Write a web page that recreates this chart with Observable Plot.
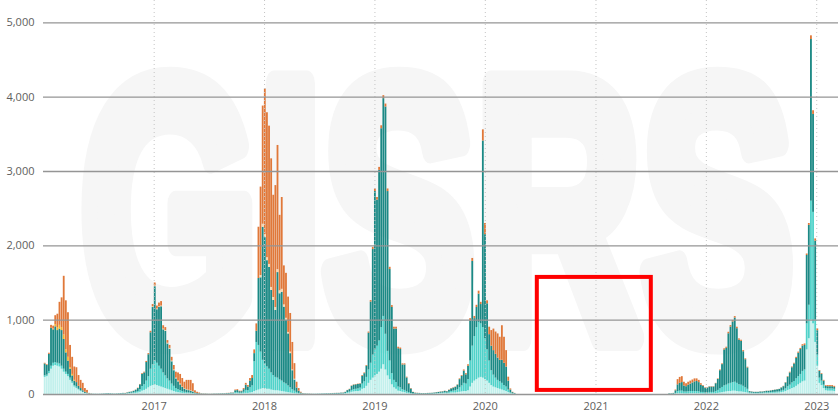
<!DOCTYPE html>
<html><head><meta charset="utf-8">
<script src="https://cdn.jsdelivr.net/npm/d3@7"></script>
<script src="https://cdn.jsdelivr.net/npm/@observablehq/plot@0.6"></script>
<style>
html,body{margin:0;padding:0;background:#fff;}
#chart{width:838px;height:419px;overflow:hidden;}
</style></head><body><div id="chart"></div>
<script>
// ---- data (weekly, first week starting Sunday 2016-01-03) ----
const firstWeek = "2016-01-03";
const seriesNames = ["A not subtyped", "A(H1N1)pdm09", "A(H3)", "B (Victoria)", "B lineage not determined", "B (Yamagata)"];
const seriesColors = ["#c2f0ec", "#4fd2c9", "#1b8985", "#f3b431", "#f6d6ac", "#e07839"];
const yearTicks = [2017, 2018, 2019, 2020, 2021, 2022, 2023];
const yTicks = [0, 1000, 2000, 3000, 4000, 5000];
const highlightStart = ["2020-06-21"];
const highlightEnd = ["2021-07-03"];
const highlightLow = [55];
const highlightHigh = [1575];
const watermark = ["GISRS"];

const pale = [
 230,240,280,340,380,390,380,370,340,300,270,240,190,150,100,80,60,40,30,15,10,5,
 2,2,1,1,2,2,3,3,4,3,3,2,3,3,4,5,
 5,7,10,10,12,15,20,30,45,55,70,90,110,120,130,120,110,100,90,80,70,60,50,40,30,25,20,15,12,10,10,8,6,5,3,2,
 2,2,1,1,1,1,2,2,2,3,3,3,4,4,5,
 5,10,10,8,8,10,15,15,20,25,40,50,60,70,80,80,70,70,60,55,50,50,45,40,35,30,25,20,15,10,8,5,3,
 2,2,2,1,1,1,1,1,2,2,2,3,3,3,4,4,4,4,5,
 5,8,15,18,30,35,40,40,45,70,80,110,150,190,220,250,270,300,340,400,330,250,200,130,90,70,45,40,30,25,15,10,6,3,
 4,4,3,3,3,3,3,4,4,5,6,8,10,10,12,
 10,15,20,20,20,25,30,35,40,40,50,100,150,180,200,220,230,220,200,180,150,120,100,90,80,70,60,50,40,25,10,5,3,
 0,0,0,0,0,0,0,0,0,0, 0,0,0,0,0,0,0,0,0,0, 0,0,0,0,0,0,0,0,0,0, 0,0,0,0,0,0,0,0,0,0,
 0,0,0,0,0,0,0,0,0,0, 0,0,0,0,0,0,0,0,0,0, 0,0,0,0,0,0,0,0,0,0, 0,0,
 2,2,3,5,10,10,10,8,8,8,10,10,10,10,10,8,8,6,6,8,8,8,10,15,20,25,30,35,40,40,45,45,40,35,35,30,25,20,10,
 10,9,9,9,10,10,12,13,13,15,16,17,19,
 20,25,30,40,55,65,80,90,110,130,150,170,180,600,750,1000,950,700,380,150,120,80,50,45,45,45,40
];
const turq = [
 20,20,30,40,40,40,40,40,40,40,30,30,30,20,20,20,10,10,0,0,0,0,
 1,1,1,0,1,1,1,2,2,2,1,1,1,2,2,3,
 3,5,6,8,10,15,20,35,60,75,110,150,230,280,320,300,270,240,200,170,140,120,90,70,50,40,30,25,18,15,12,10,8,5,3,2,
 1,1,1,1,0,1,1,1,1,2,2,2,3,3,5,
 5,15,15,10,10,20,40,35,70,90,400,650,600,500,380,330,300,270,230,200,180,170,150,140,120,110,90,70,50,35,20,10,5,
 2,1,1,1,1,1,1,1,1,1,2,2,2,2,3,3,3,3,4,
 5,7,12,15,25,30,30,35,40,70,90,120,180,230,310,350,380,420,560,650,480,330,250,150,100,90,55,50,35,30,20,15,8,4,
 3,3,3,2,2,2,3,3,3,4,5,5,7,8,10,
 10,15,20,25,30,40,60,80,110,100,150,350,500,600,700,750,720,680,550,420,300,200,160,130,110,100,90,70,60,35,15,5,3,
 0,0,0,0,0,0,0,0,0,0, 0,0,0,0,0,0,0,0,0,0, 0,0,0,0,0,0,0,0,0,0, 0,0,0,0,0,0,0,0,0,0,
 0,0,0,0,0,0,0,0,0,0, 0,0,0,0,0,0,0,0,0,0, 0,0,0,0,0,0,0,0,0,0, 0,0,
 2,2,3,10,30,35,35,25,25,28,30,30,30,30,25,20,20,15,15,20,20,20,30,40,55,70,85,90,100,110,115,120,110,95,90,80,65,50,12,
 8,7,7,7,8,8,9,10,10,11,12,13,14,
 15,20,25,35,50,60,75,85,100,110,120,140,150,350,450,1600,1500,300,150,70,60,45,30,30,30,30,30
];
const teal = [
 160,130,230,510,450,480,440,470,480,400,260,180,120,80,60,60,40,30,20,15,10,5,
 3,2,2,2,2,3,4,5,6,5,4,3,4,5,6,7,
 5,8,12,15,20,27,40,65,165,160,250,295,490,770,1000,720,790,840,580,600,470,430,300,210,130,105,80,55,40,35,30,25,20,10,8,6,
 4,3,3,2,2,2,3,3,4,4,5,5,6,7,8,
 8,25,28,20,20,35,70,50,90,100,110,150,900,1000,1790,1700,1430,1370,1110,1010,900,1420,1160,1195,1020,855,700,460,255,150,60,30,12,
 5,4,3,3,2,2,2,3,3,4,4,5,5,6,6,7,8,8,9,
 8,13,25,33,55,60,60,60,55,105,110,150,495,823,1420,2130,1965,2295,2675,2930,3057,2150,1231,891,690,720,516,515,332,342,188,115,60,20,
 10,8,8,7,7,7,8,8,9,10,12,14,15,17,20,
 17,26,35,40,45,60,110,130,165,125,180,540,1140,240,270,380,260,2510,1400,620,355,330,330,320,300,290,310,300,270,120,35,15,7,
 0,0,0,0,0,0,0,0,0,0, 0,0,0,0,0,0,0,0,0,0, 0,0,0,0,0,0,0,0,0,0, 0,0,0,0,0,0,0,0,0,0,
 0,0,0,0,0,0,0,0,0,0, 0,0,0,0,0,0,0,0,0,0, 0,0,0,0,0,0,0,0,0,0, 0,0,
 5,5,8,35,90,105,115,82,72,89,100,115,130,135,125,97,82,64,64,72,72,72,105,148,245,307,484,496,677,757,815,863,735,600,590,465,378,287,16,
 15,13,13,13,15,15,17,20,20,22,25,28,30,
 33,42,50,80,128,165,205,235,275,315,335,340,330,920,1075,2175,1317,1063,328,93,90,55,30,30,30,30,25
];
const yellow = [
 0,0,0,0,10,30,40,50,40,60,40,50,20,20,10,0,0,0,0,0,0,0,
 0,0,0,0,0,0,0,0,0,0, 0,0,0,0,0,0,0,0,0,0, 0,0,0,0,0,0,0,0,0,0, 0,0,0,0,0,0,0,0,0,0, 0,0,0,0,0,0,0,0,0,0,
 0,0,0,0,0,0,0,0,0,0, 0,0,0,0,0,0,0,0,0,0, 0,0,0,0,0,0,0,0,0,0, 0,0,0,0,0,0,0,0,0,0, 0,0,0,0,0,0,0,0,0,0,
 0,0,0,0,0,0,0,0,0,0, 0,0,0,0,0,0,0,0,0,0, 0,0,0,0,0,0,0,0,0,0, 0,0,0,0,0,0,0,0,0,0, 0,0,0,0,0,0,0,0,0,0,
 0,0,0,0,0,0,0,0,0,0, 0,0,0,0,0,0,0,0,0,0, 0,0,0,0,0,0,0,0,0,0, 0,0,0,0,0,0,0,0,0,0, 0,0,0,0,0,0,0,0,0,0,
 0,0,0,0,0,0,0,0,0,0, 0,0,0,0,0,0,0,0,0,0, 0,0,0,0,0,0,0,0,0,0, 0,0,0,0,0,0,0,0,0,0, 0,0,0,0,0,0,0,0,0,0,
 0,0,0,0,0,0,0,0,0,0, 0,0,0,0,0,0,0,0,0,0, 0,0,0,0,0,0,0,0,0,0, 0,0,0,0,0,0,0,0,0,0, 0,0,0,0,0,0,0,0,0,0,
 0,0,0,0,0,0,0,0,0,0, 0,0,0,0,0,0,0,0,0,0, 0,0,0,0,0,0,0,0,0,0, 0,0,0,0,0,0,0,0,0,0, 0,0,0,0,0,0,0,0,0,0,
 0,0
];
const cream = [
 0,0,0,0,0,0,0,0,0,0, 0,0,0,0,0,0,0,0,0,0, 0,0,0,0,0,0,0,0,0,0, 0,0,0,0,0,0,0,0,
 0,0,0,0,0,0,0,0,0,0,0,0,0, 10,10,10,10,10,10,10,10,10,10,10,10,10,10, 5,5,5,5,5,5, 0,0,0,
 0,0,0,0,0,0,0,0,0,0,0,0,0,0,0,
 0,0,0,0,0,0,0,0,0,0,0,0,0, 30, 40,40,40,40,40,40,40,40,40,40, 30,30,20,20,10,10, 0,0,0,
 0,0,0,0,0,0,0,0,0,0, 0,0,0,0,0,0,0,0,0,0, 0,0,0,0,0,0,0,0,0,0, 0,0,0,0,0,0,0,0,0,0, 0,0,0,0,0,0,0,0,0,0,
 0,0,0,0,0,0,0,0,0,0, 0,0,0,0,0,0,0,0,0,0, 0,0,0,0,0,0,0,0,0,0, 0,0,0,0,0,0,0,0,0,0, 0,0,0,0,0,0,0,0,0,0,
 0,0,0,0,0,0,0,0,0,0, 0,0,0,0,0,0,0,0,0,0, 0,0,0,0,0,0,0,0,0,0, 0,0,0,0,0,0,0,0,0,0, 0,0,0,0,0,0,0,0,0,0,
 0,0,0,0,0,0,0,0,0,0, 0,0,0,0,0,0,0,0,0,0, 0,0,0,0,0,0,0,0,0,0, 0,0,0,0,0,0,0,0,0,0, 0,0,0,0,0,0,0,0,0,0,
 0,0,0,0,0,0,0,0,0,0, 0,0,0,0,0,0,0,0,0,0, 0,0,0,0,0,0,0,0,0,0, 0,0,0,0,0,0,0,0,0,0, 0,0,0,0,0,0,0,0,0,0,
 0,0
];
const orange = [
 10,10,15,40,40,120,180,310,400,790,660,600,300,230,180,200,145,110,100,50,35,5,
 2,0,0,0,0,0,0,0,0,0,0,0,0,0,0,0,
 2,2,2,2,3,3,5,5,10,10,15,15,20,30,40,40,50,60,45,40,35,40,50,60,80,110,130,115,90,125,133,142,106,30,16,10,
 3,2,2,1,1,1,1,1,1,1,1,1,2,2,2,
 2,10,12,7,7,15,25,20,35,40,50,100,690,1190,1590,1960,1950,1860,1730,1375,1640,1670,1015,1235,525,605,475,520,370,210,77,35,10,
 2,1,1,1,1,0,0,0,0,0,0,0,0,1,1,1,1,1,1,
 2,2,3,4,5,5,5,5,5,10,10,10,15,20,30,35,35,40,40,40,40,35,30,25,25,25,20,20,15,15,10,8,6,3,
 2,2,1,1,1,1,1,1,1,1,2,2,3,3,3,
 3,4,5,5,5,5,10,10,15,15,20,30,40,30,30,40,30,150,150,40,100,210,290,300,325,310,465,350,220,53,15,5,2,
 0,0,0,0,0,0,0,0,0,0, 0,0,0,0,0,0,0,0,0,0, 0,0,0,0,0,0,0,0,0,0, 0,0,0,0,0,0,0,0,0,0,
 0,0,0,0,0,0,0,0,0,0, 0,0,0,0,0,0,0,0,0,0, 0,0,0,0,0,0,0,0,0,0, 0,0,
 1,1,1,10,70,80,80,50,40,40,40,40,40,35,30,20,10,5,5,5,5,5,5,7,10,10,15,15,20,20,20,20,20,18,15,15,12,10,2,
 2,1,1,1,2,2,2,2,2,2,2,2,2,
 2,3,5,5,7,10,10,10,15,15,15,20,20,20,25,50,50,30,25,10,10,10,10,15,15,15,15
];

// ---- build table ----
const seriesValues = [pale, turq, teal, yellow, cream, orange];
const start = new Date(firstWeek + "T00:00:00Z");
const weekStarts = pale.map((_, i) => d3.utcWeek.offset(start, i));
const weekEnds = weekStarts.map(d => d3.utcWeek.offset(d, 1));
const rows = [];
weekStarts.forEach((d, i) => {
  seriesValues.forEach((arr, s) => {
    rows.push({x1: d, x2: weekEnds[i], series: seriesNames[s], value: arr[i] || 0});
  });
});
const yearDates = yearTicks.map(y => new Date(Date.UTC(y, 0, 1)));
const box = highlightStart.map((s, i) => ({
  x1: new Date(s + "T00:00:00Z"), x2: new Date(highlightEnd[i] + "T00:00:00Z"),
  y1: highlightLow[i], y2: highlightHigh[i]
}));

const chart = Plot.plot({
  width: 838,
  height: 419,
  marginLeft: 43,
  marginRight: 0,
  marginTop: 0,
  marginBottom: 25,
  style: {fontFamily: "'Open Sans', sans-serif", fontSize: "11px", color: "#605e5c", background: "#ffffff"},
  x: {type: "utc", domain: [new Date(Date.UTC(2016, 0, 1)), new Date(Date.UTC(2023, 2, 14))],
      ticks: yearDates, tickFormat: d3.utcFormat("%Y"), tickSize: 0, tickPadding: 8, label: null},
  y: {domain: [0, 5300], ticks: yTicks, tickFormat: d3.format(","), tickSize: 0, tickPadding: 9, label: null},
  color: {domain: seriesNames, range: seriesColors},
  marks: [
    Plot.rectY(rows, Plot.stackY({x1: "x1", x2: "x2", y: "value", fill: "series", z: "series",
      order: seriesNames, insetLeft: 0.15, insetRight: 0.15})),
    Plot.ruleX(yearDates, {stroke: "#c4c4c4", strokeDasharray: "1,3", strokeWidth: 1}),
    Plot.ruleY(yTicks, {stroke: "#959595", strokeWidth: 1.3}),
    Plot.rect(box, {x1: "x1", x2: "x2", y1: "y1", y2: "y2", fill: "none", stroke: "#ff0000", strokeWidth: 4})
  ]
});

// faint watermark behind everything
const svg = d3.select(chart);
const g = svg.insert("g", ":first-child").attr("transform", "translate(437,338) scale(0.62,1)");
g.append("text")
  .attr("text-anchor", "middle")
  .attr("font-family", "'Liberation Sans', Arial, sans-serif")
  .attr("font-weight", "bold")
  .attr("font-size", 370)
  .attr("fill", "#f6f6f6")
  .attr("stroke", "#f6f6f6")
  .attr("stroke-width", 26)
  .attr("stroke-linejoin", "round")
  .text(watermark[0]);

document.getElementById("chart").appendChild(chart);

seriesValues.forEach((a, i) => { if (a.length !== 374) throw new Error(seriesNames[i] + " length " + a.length); });
</script>
</body></html>
